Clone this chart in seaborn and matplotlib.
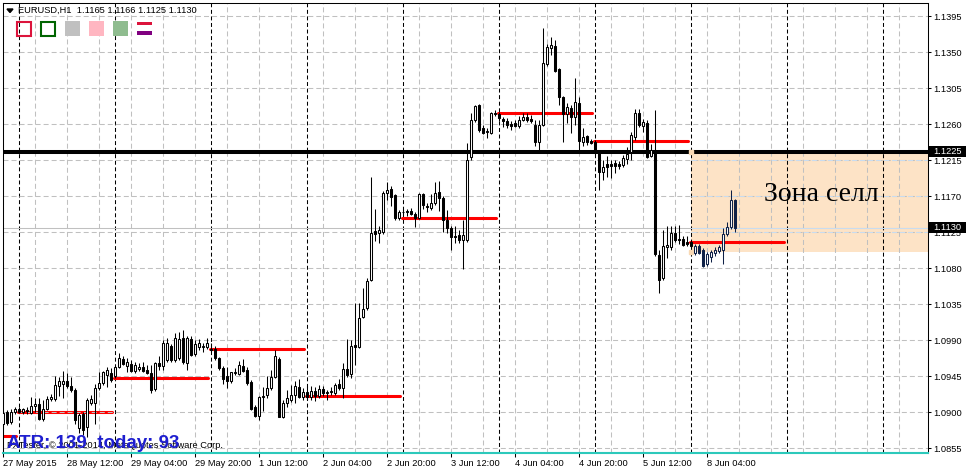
import numpy as np
import pandas as pd
import matplotlib.pyplot as plt
import matplotlib.patches as mpatches
import seaborn as sns

# --- EURUSD H1 candles, 27 May 20:00 .. 8 Jun 11:00 ---
opens = [
    1.0885, 1.0900, 1.0887, 1.0900, 1.0904, 1.0900, 1.0902, 1.0899, 1.0907, 1.0910, 1.0891, 1.0904,
    1.0916, 1.0916, 1.0932, 1.0935, 1.0939, 1.0932, 1.0927, 1.0880, 1.0897, 1.0881, 1.0911, 1.0911,
    1.0930, 1.0936, 1.0946, 1.0949, 1.0945, 1.0956, 1.0966, 1.0958, 1.0960, 1.0951, 1.0954, 1.0956,
    1.0953, 1.0949, 1.0929, 1.0961, 1.0958, 1.0965, 1.0983, 1.0965, 1.0968, 1.0993, 1.0961, 1.0991,
    1.0973, 1.0981, 1.0981, 1.0981, 1.0979, 1.0979, 1.0968, 1.0955, 1.0945, 1.0939, 1.0949, 1.0948,
    1.0958, 1.0953, 1.0938, 1.0906, 1.0895, 1.0919, 1.0921, 1.0930, 1.0944, 1.0966, 1.0894, 1.0911,
    1.0915, 1.0921, 1.0931, 1.0919, 1.0925, 1.0919, 1.0926, 1.0920, 1.0929, 1.0924, 1.0925, 1.0924,
    1.0935, 1.0930, 1.0954, 1.0948, 1.0984, 1.0981, 1.1019, 1.1030, 1.1065, 1.1126, 1.1124, 1.1125,
    1.1174, 1.1179, 1.1171, 1.1143, 1.1150, 1.1150, 1.1151, 1.1148, 1.1143, 1.1173, 1.1158, 1.1155,
    1.1161, 1.1175, 1.1168, 1.1140, 1.1130, 1.1120, 1.1121, 1.1115, 1.1115, 1.1219, 1.1265, 1.1284,
    1.1255, 1.1250, 1.1249, 1.1274, 1.1273, 1.1266, 1.1264, 1.1260, 1.1261, 1.1258, 1.1265, 1.1269,
    1.1266, 1.1259, 1.1238, 1.1259, 1.1335, 1.1355, 1.1358, 1.1329, 1.1294, 1.1273, 1.1280, 1.1269,
    1.1286, 1.1238, 1.1245, 1.1239, 1.1238, 1.1224, 1.1200, 1.1210, 1.1210, 1.1211, 1.1210, 1.1209,
    1.1216, 1.1225, 1.1244, 1.1274, 1.1258, 1.1261, 1.1220, 1.1228, 1.1096, 1.1068, 1.1106, 1.1106,
    1.1124, 1.1116, 1.1116, 1.1113, 1.1113, 1.1099, 1.1108, 1.1103, 1.1085, 1.1094, 1.1099, 1.1101,
    1.1103, 1.1123, 1.1131, 1.1165,
]
highs = [
    1.0903, 1.0902, 1.0904, 1.0906, 1.0906, 1.0905, 1.0906, 1.0919, 1.0917, 1.0917, 1.0915, 1.0920,
    1.0922, 1.0945, 1.0944, 1.0951, 1.0949, 1.0944, 1.0930, 1.0899, 1.0900, 1.0917, 1.0921, 1.0935,
    1.0950, 1.0951, 1.0956, 1.0955, 1.0959, 1.0974, 1.0970, 1.0968, 1.0965, 1.0963, 1.0961, 1.0963,
    1.0959, 1.0959, 1.0963, 1.0970, 1.0990, 1.0993, 1.0985, 1.0999, 1.1000, 1.1003, 1.0995, 1.0995,
    1.0990, 1.0991, 1.0986, 1.0993, 1.0986, 1.0983, 1.0969, 1.0958, 1.0956, 1.0950, 1.0955, 1.0964,
    1.0966, 1.0956, 1.0940, 1.0909, 1.0920, 1.0931, 1.0945, 1.0953, 1.0978, 1.0969, 1.0915, 1.0927,
    1.0934, 1.0939, 1.0941, 1.0930, 1.0932, 1.0932, 1.0931, 1.0934, 1.0932, 1.0927, 1.0931, 1.0936,
    1.0941, 1.0961, 1.0991, 1.0990, 1.1036, 1.1036, 1.1055, 1.1068, 1.1194, 1.1154, 1.1133, 1.1176,
    1.1188, 1.1183, 1.1173, 1.1153, 1.1154, 1.1154, 1.1155, 1.1150, 1.1174, 1.1174, 1.1161, 1.1173,
    1.1188, 1.1189, 1.1170, 1.1153, 1.1133, 1.1133, 1.1128, 1.1140, 1.1236, 1.1274, 1.1284, 1.1285,
    1.1259, 1.1255, 1.1275, 1.1278, 1.1275, 1.1269, 1.1268, 1.1264, 1.1265, 1.1270, 1.1274, 1.1274,
    1.1271, 1.1265, 1.1265, 1.1380, 1.1360, 1.1369, 1.1365, 1.1330, 1.1295, 1.1286, 1.1284, 1.1318,
    1.1294, 1.1255, 1.1246, 1.1241, 1.1240, 1.1228, 1.1215, 1.1220, 1.1215, 1.1215, 1.1214, 1.1221,
    1.1231, 1.1250, 1.1279, 1.1279, 1.1266, 1.1265, 1.1235, 1.1278, 1.1103, 1.1128, 1.1133, 1.1133,
    1.1133, 1.1134, 1.1120, 1.1120, 1.1115, 1.1110, 1.1110, 1.1105, 1.1100, 1.1103, 1.1106, 1.1109,
    1.1130, 1.1138, 1.1178, 1.1166,
]
lows = [
    1.0874, 1.0884, 1.0885, 1.0897, 1.0899, 1.0897, 1.0897, 1.0897, 1.0900, 1.0890, 1.0889, 1.0902,
    1.0914, 1.0914, 1.0920, 1.0917, 1.0930, 1.0925, 1.0885, 1.0874, 1.0871, 1.0869, 1.0909, 1.0885,
    1.0927, 1.0934, 1.0931, 1.0938, 1.0943, 1.0955, 1.0959, 1.0950, 1.0950, 1.0949, 1.0951, 1.0950,
    1.0948, 1.0924, 1.0926, 1.0953, 1.0953, 1.0963, 1.0963, 1.0963, 1.0965, 1.0960, 1.0953, 1.0970,
    1.0970, 1.0978, 1.0975, 1.0979, 1.0975, 1.0965, 1.0953, 1.0935, 1.0930, 1.0936, 1.0946, 1.0946,
    1.0950, 1.0934, 1.0902, 1.0894, 1.0890, 1.0901, 1.0917, 1.0927, 1.0943, 1.0894, 1.0893, 1.0906,
    1.0913, 1.0911, 1.0917, 1.0915, 1.0915, 1.0915, 1.0914, 1.0917, 1.0920, 1.0915, 1.0921, 1.0921,
    1.0927, 1.0917, 1.0944, 1.0943, 1.0959, 1.0980, 1.1018, 1.1028, 1.1064, 1.1114, 1.1111, 1.1122,
    1.1165, 1.1158, 1.1140, 1.1140, 1.1148, 1.1145, 1.1146, 1.1131, 1.1141, 1.1154, 1.1150, 1.1153,
    1.1159, 1.1151, 1.1125, 1.1124, 1.1103, 1.1111, 1.1111, 1.1079, 1.1113, 1.1215, 1.1263, 1.1250,
    1.1248, 1.1243, 1.1248, 1.1270, 1.1264, 1.1256, 1.1255, 1.1253, 1.1256, 1.1255, 1.1264, 1.1263,
    1.1261, 1.1233, 1.1228, 1.1258, 1.1333, 1.1346, 1.1325, 1.1284, 1.1238, 1.1261, 1.1249, 1.1259,
    1.1224, 1.1233, 1.1234, 1.1235, 1.1221, 1.1178, 1.1190, 1.1194, 1.1193, 1.1199, 1.1204, 1.1206,
    1.1210, 1.1215, 1.1240, 1.1256, 1.1250, 1.1218, 1.1219, 1.1095, 1.1049, 1.1065, 1.1093, 1.1103,
    1.1113, 1.1110, 1.1108, 1.1108, 1.1106, 1.1096, 1.1098, 1.1081, 1.1083, 1.1088, 1.1095, 1.1099,
    1.1085, 1.1120, 1.1129, 1.1125,
]
closes = [
    1.0899, 1.0886, 1.0900, 1.0904, 1.0900, 1.0904, 1.0901, 1.0907, 1.0910, 1.0891, 1.0904, 1.0916,
    1.0919, 1.0934, 1.0939, 1.0939, 1.0932, 1.0927, 1.0890, 1.0896, 1.0877, 1.0915, 1.0916, 1.0930,
    1.0936, 1.0950, 1.0953, 1.0940, 1.0956, 1.0968, 1.0960, 1.0963, 1.0951, 1.0959, 1.0956, 1.0951,
    1.0949, 1.0927, 1.0961, 1.0958, 1.0986, 1.0986, 1.0965, 1.0993, 1.0991, 1.0963, 1.0993, 1.0971,
    1.0985, 1.0986, 1.0983, 1.0986, 1.0978, 1.0968, 1.0955, 1.0941, 1.0939, 1.0950, 1.0950, 1.0959,
    1.0951, 1.0936, 1.0904, 1.0895, 1.0919, 1.0920, 1.0930, 1.0944, 1.0970, 1.0894, 1.0911, 1.0917,
    1.0921, 1.0932, 1.0919, 1.0925, 1.0919, 1.0926, 1.0920, 1.0929, 1.0924, 1.0925, 1.0926, 1.0934,
    1.0930, 1.0954, 1.0946, 1.0983, 1.0981, 1.1018, 1.1029, 1.1064, 1.1124, 1.1123, 1.1127, 1.1174,
    1.1178, 1.1169, 1.1143, 1.1150, 1.1150, 1.1151, 1.1148, 1.1143, 1.1173, 1.1159, 1.1156, 1.1161,
    1.1174, 1.1168, 1.1140, 1.1130, 1.1119, 1.1119, 1.1115, 1.1121, 1.1215, 1.1265, 1.1283, 1.1253,
    1.1249, 1.1251, 1.1274, 1.1273, 1.1268, 1.1264, 1.1259, 1.1258, 1.1258, 1.1265, 1.1269, 1.1265,
    1.1264, 1.1238, 1.1259, 1.1336, 1.1356, 1.1359, 1.1326, 1.1294, 1.1273, 1.1281, 1.1269, 1.1288,
    1.1239, 1.1244, 1.1238, 1.1236, 1.1225, 1.1200, 1.1206, 1.1206, 1.1208, 1.1208, 1.1208, 1.1218,
    1.1223, 1.1246, 1.1274, 1.1259, 1.1263, 1.1219, 1.1228, 1.1098, 1.1065, 1.1108, 1.1109, 1.1124,
    1.1115, 1.1115, 1.1109, 1.1110, 1.1108, 1.1108, 1.1099, 1.1083, 1.1098, 1.1100, 1.1103, 1.1106,
    1.1123, 1.1131, 1.1165, 1.1130,
]

# daily open levels (red), first bar index of each day
day_start = [-20, 4, 28, 52, 76, 100, 124, 148, 172]
day_open = [1.0870, 1.0900, 1.0943, 1.0979, 1.0920, 1.1142, 1.1274, 1.1239, 1.1112]

price_ticks = [1.0855, 1.0900, 1.0945, 1.0990, 1.1035, 1.1080, 1.1125,
               1.1170, 1.1215, 1.1260, 1.1305, 1.1350, 1.1395]
time_pos = [0, 16, 32, 48, 64, 80, 96, 112, 128, 144, 160, 176]
time_labels = ["27 May 2015", "28 May 12:00", "29 May 04:00", "29 May 20:00",
               "1 Jun 12:00", "2 Jun 04:00", "2 Jun 20:00", "3 Jun 12:00",
               "4 Jun 04:00", "4 Jun 20:00", "5 Jun 12:00", "8 Jun 04:00"]

level_line = 1.1225
bid = 1.1130
zone_lo, zone_hi, zone_start = 1.1100, 1.1225, 171.9

sns.set_theme(style="white")
plt.rcParams["font.family"] = ["Liberation Sans", "DejaVu Sans"]

W, H = 968, 471
FS = 6.7


def px(x, y):
    return x / W, 1 - y / H


fig = plt.figure(figsize=(W / 100, H / 100), dpi=100, facecolor="white")
ax = fig.add_axes([2.5 / W, 18 / H, 925.5 / W, 450 / H])
x0, x1 = -0.2, 231.2
y0, y1 = 1.084875, 1.141125
ax.set_xlim(x0, x1)
ax.set_ylim(y0, y1)
ax.grid(False)

# sell zone
ax.fill_between([zone_start, x1], zone_lo, zone_hi, color="#fde3c6", lw=0, zorder=0.5)

# grid + period separators
gdash = (0, (4.8, 2.9))
ax.vlines(np.arange(0, 232, 8), y0, y1, colors="#c0c0c0", linestyles=gdash, lw=0.75, zorder=1)
ax.hlines(price_ticks, x0, x1, colors="#c0c0c0", linestyles=gdash, lw=0.75, zorder=1.6)
in_zone = [p for p in price_ticks if zone_lo < p < zone_hi]
ax.hlines(in_zone, zone_start, x1, colors="#c8dcf0", linestyles=gdash, lw=0.75, zorder=1.65)
ax.vlines(np.arange(4, 232, 24), y0, y1, colors="black", linestyles=(0, (3.8, 2.5)), lw=0.75, zorder=1.2)

# bid line
ax.axhline(bid, color="#c0c0c0", lw=0.75, zorder=1.4)
ax.hlines([bid], zone_start, x1, colors="#c8dcf0", lw=0.75, zorder=1.45)

# daily open segments
seg_x, seg_y, seg_d = [], [], []
for d, (s, v) in enumerate(zip(day_start, day_open)):
    seg_x += [max(s - 0.4, x0), s + 23.2]
    seg_y += [v, v]
    seg_d += [d, d]
lv = pd.DataFrame({"x": seg_x, "y": seg_y, "day": seg_d})
sns.lineplot(data=lv, x="x", y="y", units="day", estimator=None, color="red",
             lw=2.2, ax=ax, zorder=1.5, legend=False)

ax.axhline(level_line, color="black", lw=2.9, zorder=2)

# candles
o, h, l, c = map(np.array, (opens, highs, lows, closes))
idx = np.arange(len(o))
edge = np.where(idx >= 173, "#0f2147", "black")
face = np.where(c >= o, "white", edge)
ax.vlines(idx, l, h, colors=edge, lw=0.75, zorder=3)
lo_b = np.minimum(o, c)
ax.bar(idx, np.maximum(o, c) - lo_b, bottom=lo_b, width=0.5, color=face,
       edgecolor=edge, linewidth=0.75, zorder=3.5)

# zone corner handles
for yy in (zone_hi, zone_lo):
    ax.plot([zone_start], [yy], marker="s", ms=3.5, color="#f9d9b4", mec="#f9d9b4", zorder=2.2)

# axes styling
for s in ax.spines.values():
    s.set_color("black")
    s.set_linewidth(0.75)
ax.spines["bottom"].set_color("#2cc9bb")
ax.spines["bottom"].set_linewidth(1.5)
ax.yaxis.tick_right()
ax.set_yticks(price_ticks)
ax.set_yticklabels([f"{p:.4f}" for p in price_ticks])
ax.set_xticks(time_pos)
ax.set_xticklabels(time_labels, ha="left")
ax.tick_params(axis="y", right=True, left=False, labelsize=FS, length=2.2, width=0.75,
               pad=1.5, colors="black")
ax.tick_params(axis="x", bottom=True, labelsize=FS, length=3, width=0.75, pad=1.5,
               colors="black")
ax.set_xlabel("")
ax.set_ylabel("")

# header
fig.add_artist(mpatches.Polygon([px(7, 9), px(13, 9), px(10, 12.5)], closed=True,
                                transform=fig.transFigure, color="black"))
fig.text(*px(18, 13), "EURUSD,H1  1.1165 1.1166 1.1125 1.1130", fontsize=FS,
         va="baseline", ha="left", color="black")


def box(x, y, w, hh, **kw):
    fig.add_artist(mpatches.Rectangle(px(x, y + hh), w / W, hh / H,
                                      transform=fig.transFigure, **kw))


box(17, 21.5, 14, 14, fill=False, edgecolor="#dc143c", lw=1.5)
box(41, 21.5, 14, 14, fill=False, edgecolor="#006400", lw=1.5)
box(65, 21, 15, 15, facecolor="#c0c0c0", lw=0)
box(89, 21, 15, 15, facecolor="#ffb6c1", lw=0)
box(113, 21, 15, 15, facecolor="#8fbc8f", lw=0)
box(137, 21.5, 15, 3.5, facecolor="#dc143c", lw=0)
box(137, 31, 15, 3.5, facecolor="#800080", lw=0)

# price labels on the right
for yy, txt in ((level_line, "1.1225"), (bid, "1.1130")):
    ypx = (1.1415 - yy) * 8000
    box(929, ypx - 6, 37, 11.5, facecolor="black", lw=0)
    fig.text(*px(933, ypx), txt, fontsize=FS, color="white", va="center", ha="left")

# zone caption
fig.text(*px(764, 201), "Зона селл", fontsize=20, va="baseline", ha="left",
         family=["Liberation Serif", "DejaVu Serif"], color="black")

# bottom-left texts
fig.text(*px(7, 447.5), "FXTester, © 2001-2014, MetaQuotes Software Corp.", fontsize=FS,
         va="baseline", ha="left", color="black")
fig.text(*px(7, 448), "ATR: 139  today: 93", fontsize=13.5, fontweight="bold",
         va="baseline", ha="left", color="#1e1ecf")

fig.savefig("out.png", dpi=100, facecolor="white")
